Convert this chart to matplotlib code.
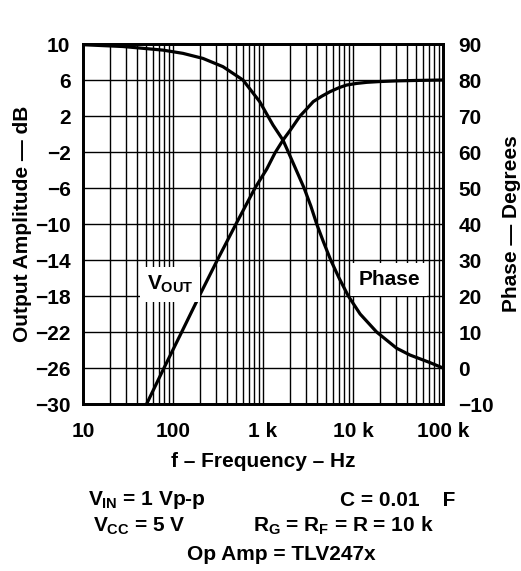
import matplotlib
matplotlib.use("Agg")
import matplotlib.pyplot as plt
from matplotlib.ticker import FixedLocator, NullFormatter

plt.rcParams['font.family'] = ['Liberation Sans', 'DejaVu Sans']
plt.rcParams['font.weight'] = 'bold'
plt.rcParams['mathtext.fontset'] = 'custom'
plt.rcParams['mathtext.rm'] = 'Liberation Sans:bold'
plt.rcParams['mathtext.it'] = 'Liberation Sans:bold'
plt.rcParams['mathtext.bf'] = 'Liberation Sans:bold'

# --- data ---
vout_freq = [50.9, 79.4, 125, 196, 311, 501, 815, 1100, 1359, 1670, 2000, 2580,
             3000, 3620, 4500, 5550, 7000, 8500, 11000, 14200, 20000, 30500,
             50000, 100000]
vout_db = [-30, -26, -22, -18, -14, -10, -6, -3.9, -2.1, -0.67, 0.4, 2,
           2.7, 3.6, 4.2, 4.7, 5.15, 5.44, 5.62, 5.74, 5.83, 5.9,
           5.95, 6.0]

phase_freq = [10, 27.8, 77.4, 129, 215, 359, 599, 918, 1291, 1668, 1910, 2200,
              2860, 3400, 3950, 4700, 5650, 7000, 8870, 12000, 18300, 30500,
              43000, 70000, 100000]
phase_deg = [89.8, 89.3, 88.3, 87.4, 86, 83.7, 80, 74, 67.5, 63.3, 60, 56.5,
             50, 45, 40, 35, 30, 25, 20, 15, 10, 5.5,
             3.6, 1.6, 0]

left_ticks = [-30, -26, -22, -18, -14, -10, -6, -2, 2, 6, 10]
right_ticks = [-10, 0, 10, 20, 30, 40, 50, 60, 70, 80, 90]
x_ticks = [10, 100, 1000, 10000, 100000]
x_labels = ['10', '100', '1 k', '10 k', '100 k']

FS = 15

fig = plt.figure(figsize=(5.21, 5.71), dpi=100)
ax = fig.add_axes([83/521, 1-404/571, 360/521, 360/571])
ax.set_xscale('log')
ax.set_xlim(10, 100000)
ax.set_ylim(-30, 10)

minor = [m * 10**e for e in range(1, 5) for m in range(2, 10)]
ax.xaxis.set_major_locator(FixedLocator(x_ticks))
ax.xaxis.set_minor_locator(FixedLocator(minor))
ax.xaxis.set_minor_formatter(NullFormatter())
ax.set_xticklabels(x_labels)
ax.set_yticks(left_ticks)
ax.set_yticklabels([str(t).replace('-', '\u2212') for t in left_ticks])
ax.grid(True, which='both', axis='x', color='black', lw=1.0)
ax.grid(True, which='major', axis='y', color='black', lw=1.0)
ax.tick_params(which='both', length=0, labelsize=FS)
ax.tick_params(axis='y', pad=9)
ax.tick_params(axis='x', pad=13)
for s in ax.spines.values():
    s.set_linewidth(2)

ax.plot(vout_freq, vout_db, color='black', lw=2.3)

ax2 = ax.twinx()
ax2.set_ylim(-10, 90)
ax2.set_yticks(right_ticks)
ax2.set_yticklabels([str(t).replace('-', '\u2212') for t in right_ticks])
ax2.tick_params(length=0, labelsize=FS, pad=11)
for s in ax2.spines.values():
    s.set_linewidth(2)
ax2.plot(phase_freq, phase_deg, color='black', lw=2.3)

for a in (ax, ax2):
    for lab in a.get_xticklabels() + a.get_yticklabels():
        lab.set_fontweight('bold')

ax.text(92.6, -16.7, r'$V_{OUT}$', fontsize=FS, ha='center', va='center',
        bbox=dict(facecolor='white', edgecolor='none', pad=5), zorder=5)
ax2.text(25100, 24.5, 'Phase', fontsize=FS, ha='center', va='center',
         bbox=dict(facecolor='white', edgecolor='none', pad=5), zorder=5)

ax.set_ylabel('Output Amplitude \u2014 dB', fontsize=FS, fontweight='bold', labelpad=2)
ax2.set_ylabel('Phase \u2014 Degrees', fontsize=FS, fontweight='bold', labelpad=6)
ax.set_xlabel('f \u2013 Frequency \u2013 Hz', fontsize=FS, fontweight='bold', labelpad=8)

fig.text(88/521, 1-500/571, r'$V_{IN}$ = 1 Vp-p', fontsize=FS, ha='left', va='center')
fig.text(340/521, 1-500/571, 'C = 0.01    F', fontsize=FS, ha='left', va='center')
fig.text(93/521, 1-526/571, r'$V_{CC}$ = 5 V', fontsize=FS, ha='left', va='center')
fig.text(253/521, 1-526/571, r'$R_G$ = $R_F$ = R = 10 k', fontsize=FS, ha='left', va='center')
fig.text(281/521, 1-555/571, 'Op Amp = TLV247x', fontsize=FS, ha='center', va='center')

fig.savefig('out.png', dpi=100)
